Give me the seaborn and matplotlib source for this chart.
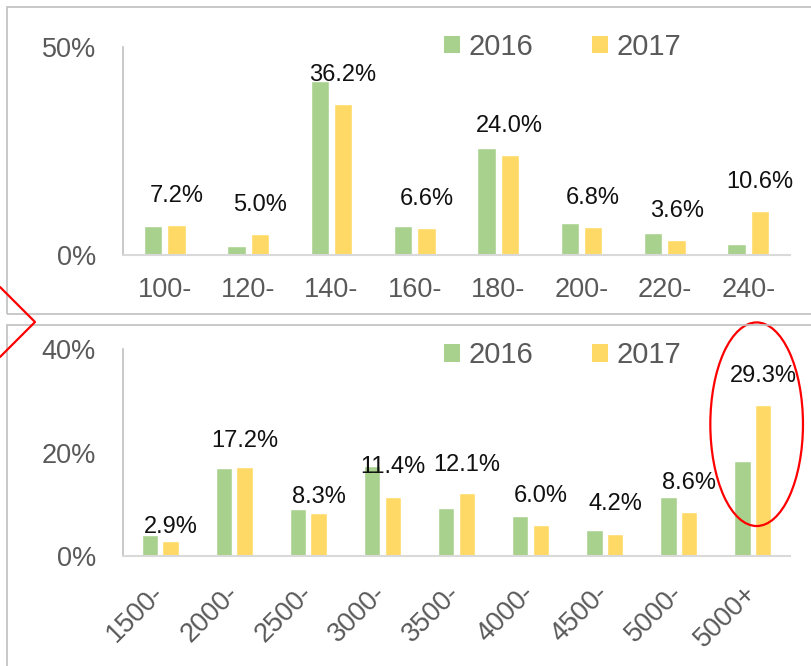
import pandas as pd
import numpy as np
import seaborn as sns
import matplotlib.pyplot as plt
from matplotlib import font_manager
from matplotlib.patches import Patch, Rectangle, Ellipse
from matplotlib.lines import Line2D
from matplotlib.transforms import offset_copy

# chart data (percent)
top_bins = ['100-', '120-', '140-', '160-', '180-', '200-', '220-', '240-']
top_2016 = [6.9, 2.2, 41.8, 7.0, 25.8, 7.7, 5.4, 2.6]
top_2017 = [7.2, 5.0, 36.2, 6.6, 24.0, 6.8, 3.6, 10.6]

bottom_bins = ['1500-', '2000-', '2500-', '3000-', '3500-', '4000-', '4500-', '5000-', '5000+']
bottom_2016 = [4.1, 17.1, 9.1, 17.5, 9.2, 7.7, 5.0, 11.4, 18.3]
bottom_2017 = [2.9, 17.2, 8.3, 11.4, 12.1, 6.0, 4.2, 8.6, 29.3]

years = ['2016', '2017']
colors = {'2016': '#A9D18E', '2017': '#FFD966'}

sns.set_style("white")
plt.rcParams['font.family'] = ['Liberation Sans', 'DejaVu Sans']

installed = {f.name for f in font_manager.fontManager.ttflist}
label_family = ['Liberation Sans Narrow'] if 'Liberation Sans Narrow' in installed else ['Liberation Sans']
label_size = 19 if 'Liberation Sans Narrow' in installed else 17

TICK_GREY = '#595959'


def to_long(bins, v16, v17):
    df = pd.DataFrame({'bin': bins, '2016': v16, '2017': v17})
    return df.melt(id_vars='bin', var_name='year', value_name='share')


def draw_panel(ax, bins, v16, v17, ymax, yticks, label_offsets, rotate):
    data = to_long(bins, v16, v17)
    sns.barplot(data=data, x='bin', y='share', hue='year', order=bins,
                hue_order=years, palette=colors, width=0.56, gap=0.214,
                saturation=1, legend=False, ax=ax)
    n = len(bins)
    ax.set_xlim(-0.5, n - 0.5)
    ax.set_ylim(0, ymax)
    ax.set_xlabel('')
    ax.set_ylabel('')

    # spines
    sns.despine(ax=ax)
    ax.spines['left'].set_color('#bfbfbf')
    ax.spines['left'].set_linewidth(1.2)
    ax.spines['bottom'].set_color('#d9d9d9')
    ax.spines['bottom'].set_linewidth(1.5)

    # y ticks
    ax.set_yticks(yticks)
    ax.set_yticklabels([f'{t:.0f}%' for t in yticks])
    ax.tick_params(axis='y', length=6.5, width=1.2, color='#bfbfbf', pad=13,
                   labelsize=19.5, labelcolor=TICK_GREY)

    # x ticks: labels at centers, small ticks at the boundaries
    ax.set_xticks(range(n))
    if rotate:
        ax.set_xticklabels(bins, rotation=45, ha='right', va='center',
                           rotation_mode='anchor')
        ax.tick_params(axis='x', which='major', length=0, pad=24,
                       labelsize=19.5, labelcolor=TICK_GREY)
    else:
        ax.set_xticklabels(bins)
        ax.tick_params(axis='x', which='major', length=0, pad=16,
                       labelsize=19.5, labelcolor=TICK_GREY)
    ax.set_xticks(np.arange(-0.5, n), minor=True)
    ax.tick_params(axis='x', which='minor', direction='in', length=6,
                   width=1.2, color='#d9d9d9')

    # value labels above the 2017 bars
    for bar, val, off in zip(ax.containers[1], v17, label_offsets):
        cx = bar.get_x() + bar.get_width() / 2
        tr = offset_copy(ax.transData, fig=ax.figure, x=0, y=off, units='dots')
        ax.text(cx, bar.get_height(), f'{val:.1f}%', transform=tr,
                ha='center', va='center', fontsize=label_size,
                family=label_family, color='#111111')

    handles = [Patch(facecolor=colors[y], edgecolor='none', label=y) for y in years]
    return handles


fig = plt.figure(figsize=(8.12, 6.66), dpi=100)

ax_top = fig.add_axes([123 / 812, 1 - 255 / 666, 667 / 812, 208 / 666])
ax_bot = fig.add_axes([123 / 812, 1 - 556 / 666, 667 / 812, 206.7 / 666])

h = draw_panel(ax_top, top_bins, top_2016, top_2017, 50, [0, 50],
               [29] * len(top_bins), rotate=False)
draw_panel(ax_bot, bottom_bins, bottom_2016, bottom_2017, 40, [0, 20, 40],
           [14, 26, 16, 30, 28, 29, 30, 29, 29], rotate=True)

for ax, ly in [(ax_top, 1.0), (ax_bot, 0.972)]:
    leg = ax.legend(handles=h, loc='center', bbox_to_anchor=(0.659, ly),
                    ncol=2, frameon=False, fontsize=21, handlelength=0.55,
                    handleheight=0.55, handletextpad=0.3, columnspacing=2.0,
                    borderaxespad=0)
    for t in leg.get_texts():
        t.set_color(TICK_GREY)

# red ellipse around the last group of the lower panel
ax_bot.add_patch(Ellipse((8.05, 25.5), 1.25, 39.4, fill=False,
                         edgecolor='red', linewidth=1.6, clip_on=False))

# panel frames
fig.add_artist(Rectangle((7 / 812, 1 - 314 / 666), 1.0, 307 / 666,
                         transform=fig.transFigure, fill=False,
                         edgecolor='#bfbfbf', linewidth=1.2))
fig.add_artist(Rectangle((7 / 812, -0.05), 1.0, 0.05 + 1 - 325 / 666,
                         transform=fig.transFigure, fill=False,
                         edgecolor='#bfbfbf', linewidth=1.2))

# red chevron on the left edge
fig.add_artist(Line2D([0, 35 / 812, 0], [1 - 287 / 666, 1 - 322 / 666, 1 - 357 / 666],
                      transform=fig.transFigure, color='red', linewidth=1.6))

fig.savefig('out.png', dpi=100)
